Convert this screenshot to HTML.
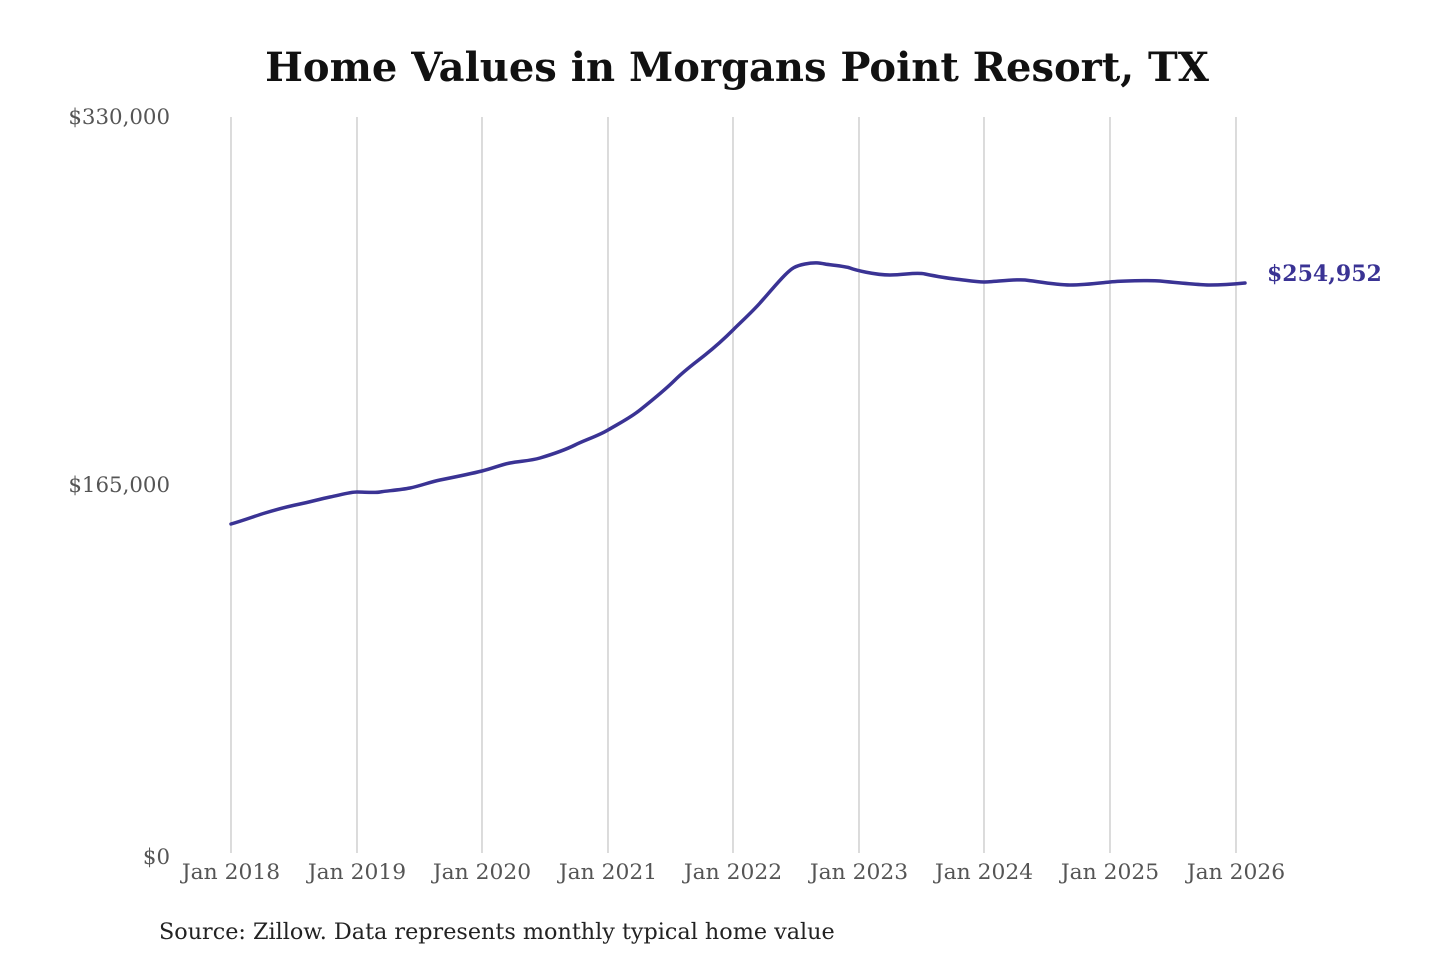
<!DOCTYPE html>
<html><head><meta charset="utf-8"><style>
html,body{margin:0;padding:0;background:#fff;}
svg{display:block;}
</style></head><body>
<svg width="1440" height="960" viewBox="0 0 1440 960" xmlns="http://www.w3.org/2000/svg" font-family="'DejaVu Serif','Liberation Serif',serif">
<text x="737" y="81" text-anchor="middle" font-size="40" font-weight="bold" fill="#111">Home Values in Morgans Point Resort, TX</text>
<g stroke="#c8c8c8" stroke-width="1.3">
<line x1="231" y1="117" x2="231" y2="853"/><line x1="357" y1="117" x2="357" y2="853"/>
<line x1="482" y1="117" x2="482" y2="853"/><line x1="608" y1="117" x2="608" y2="853"/>
<line x1="733" y1="117" x2="733" y2="853"/><line x1="859" y1="117" x2="859" y2="853"/>
<line x1="984" y1="117" x2="984" y2="853"/><line x1="1110" y1="117" x2="1110" y2="853"/>
<line x1="1236" y1="117" x2="1236" y2="853"/>
</g>
<g font-size="21.3" fill="#555" text-anchor="end">
<text x="170" y="124">$330,000</text>
<text x="170" y="492">$165,000</text>
<text x="170" y="864">$0</text>
</g>
<g font-size="21.8" fill="#555" text-anchor="middle">
<text x="231" y="879">Jan 2018</text><text x="357" y="879">Jan 2019</text>
<text x="482" y="879">Jan 2020</text><text x="608" y="879">Jan 2021</text>
<text x="733" y="879">Jan 2022</text><text x="859" y="879">Jan 2023</text>
<text x="984" y="879">Jan 2024</text><text x="1110" y="879">Jan 2025</text>
<text x="1236" y="879">Jan 2026</text>
</g>
<path d="M231,524 C245,520 255,516 265,513 S290,506 300,504 S320,499 330,497 S350,492 357,492 S375,493 380,492 S400,490 410,488 S430,482 440,480 S470,474 482,471 S500,465 510,463 S530,461 540,458 S565,450 575,445 S598,436 608,430 S630,418 640,410 S665,390 675,380 S695,363 705,355 S725,338 733,330 S752,312 760,303 S778,282 785,275 S795,266 805,264 S820,263 825,264 S845,266 850,268 S875,275 890,275 S915,272 925,274 S945,278 955,279 S975,282 984,282 S1015,279 1025,280 S1055,285 1070,285 S1100,283 1110,282 S1150,280 1160,281 S1200,285 1210,285 S1235,284 1245,283" fill="none" stroke="#3a3394" stroke-width="3.5" stroke-linecap="round"/>
<text x="1267" y="281" font-size="22" font-weight="bold" fill="#3a3394">$254,952</text>
<text x="159" y="939" font-size="22.3" fill="#222">Source: Zillow. Data represents monthly typical home value</text>
</svg>
</body></html>
